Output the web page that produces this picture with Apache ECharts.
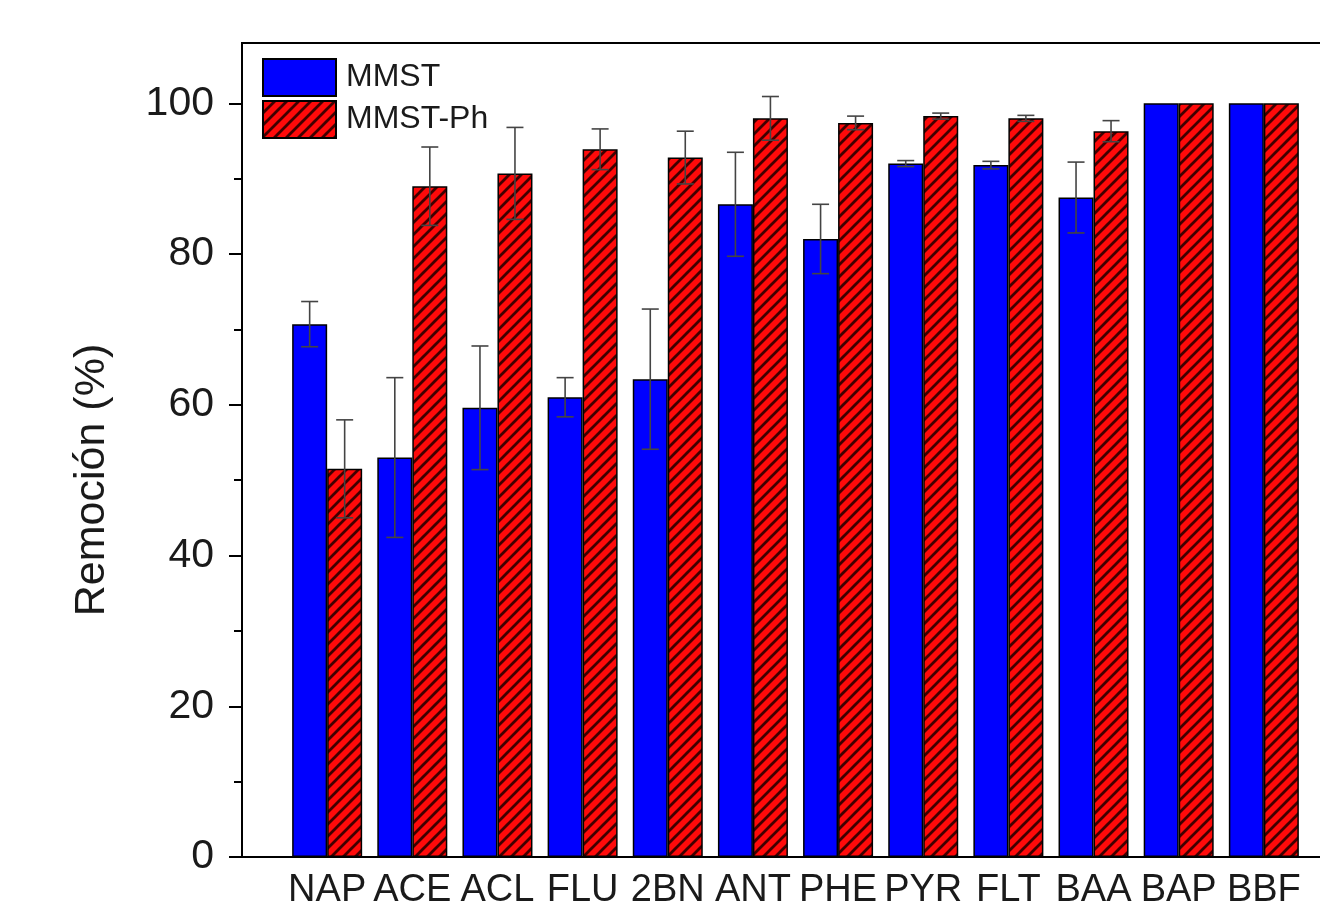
<!DOCTYPE html>
<html>
<head>
<meta charset="utf-8">
<script src="https://cdn.jsdelivr.net/npm/echarts@6/dist/echarts.min.js"></script>
<style>
html,body{margin:0;padding:0;background:#fff;overflow:hidden;width:1320px;height:910px;}
#chart{width:1360px;height:910px;}
</style>
</head>
<body>
<div id="chart"></div>
<script>
// ---- data ----
var categories = ['NAP','ACE','ACL','FLU','2BN','ANT','PHE','PYR','FLT','BAA','BAP','BBF'];
var mmst      = [70.7, 53.0, 59.6, 61.0, 63.4, 86.6, 82.0, 92.0, 91.8, 87.5, 100, 100];
var mmstErr   = [3.0, 10.6, 8.2, 2.6, 9.3, 6.9, 4.6, 0.4, 0.5, 4.7, 0, 0];
var mmstPh    = [51.5, 89.0, 90.7, 93.9, 92.8, 98.0, 97.4, 98.3, 98.0, 96.3, 100, 100];
var mmstPhErr = [6.5, 5.2, 6.1, 2.7, 3.5, 2.9, 0.9, 0.4, 0.4, 1.4, 0, 0];
var yMajorTicks = [0, 20, 40, 60, 80, 100];
var yMinorTicks = [10, 30, 50, 70, 90];

// ---- styles ----
var FONT = '"Liberation Sans", Arial, sans-serif';
var BAR_W = 35;

function makeHatch(){
  var c = document.createElement('canvas');
  var s = 12;
  c.width = s; c.height = s;
  var g = c.getContext('2d');
  g.fillStyle = '#ff0a0a';
  g.fillRect(0,0,s,s);
  g.strokeStyle = '#400000';
  g.lineWidth = 2.8;
  g.beginPath();
  g.moveTo(-2, s+2); g.lineTo(s+2, -2);
  g.moveTo(-2-s, s+2); g.lineTo(2, -2);
  g.moveTo(s-2, s+2); g.lineTo(2*s+2, -2);
  g.stroke();
  return c;
}
var hatch = makeHatch();

function xy(vals){ return vals.map(function(v,i){ return [i+1, v]; }); }
function errData(vals, errs, side){
  return vals.map(function(v,i){ return [i+1, v, errs[i], side]; });
}

function renderErr(params, api){
  var x = api.value(0), v = api.value(1), e = api.value(2), side = api.value(3);
  if (!e) return null;
  var top = api.coord([x, v + e]);
  var bot = api.coord([x, v - e]);
  var px = top[0] + side * BAR_W / 2;
  var cap = 8.5;
  var st = {stroke:'#444', lineWidth:1.6};
  return {
    type:'group',
    children:[
      {type:'line', shape:{x1:px, y1:top[1], x2:px, y2:bot[1]}, style:st},
      {type:'line', shape:{x1:px-cap, y1:top[1], x2:px+cap, y2:top[1]}, style:st},
      {type:'line', shape:{x1:px-cap, y1:bot[1], x2:px+cap, y2:bot[1]}, style:st}
    ]
  };
}

var chart = echarts.init(document.getElementById('chart'), null, {renderer:'canvas'});
chart.setOption({
  backgroundColor:'#fff',
  animation:false,
  textStyle:{fontFamily:FONT},
  grid:{left:242, right:11, top:43, bottom:53, show:true, borderColor:'#000', borderWidth:2, backgroundColor:'transparent'},
  legend:{
    orient:'vertical', left:257, top:53, icon:'rect',
    itemWidth:73, itemHeight:37, itemGap:3,
    textStyle:{fontFamily:FONT, fontSize:32, color:'#1a1a1a', padding:[0,0,0,5]},
    data:['MMST','MMST-Ph']
  },
  xAxis:{
    type:'value', min:0, max:13, interval:1,
    axisLine:{show:true, lineStyle:{color:'#000', width:2}},
    axisTick:{show:false},
    splitLine:{show:false},
    axisLabel:{
      fontFamily:FONT, fontSize:38, color:'#1a1a1a', margin:15,
      formatter:function(v){ return categories[v-1] || ''; }
    }
  },
  yAxis:[{
    type:'value', min:0, max:108,
    name:'Remoción (%)', nameLocation:'middle', nameGap:128,
    nameTextStyle:{fontFamily:FONT, fontSize:43, color:'#1a1a1a', padding:[0,60,0,0]},
    axisLine:{show:true, lineStyle:{color:'#000', width:2}},
    axisTick:{show:true, inside:false, length:13, customValues:yMajorTicks, lineStyle:{color:'#000', width:2}},
    axisLabel:{fontFamily:FONT, fontSize:41, color:'#1a1a1a', margin:28, customValues:yMajorTicks},
    splitLine:{show:false}
  },{
    type:'value', min:0, max:108, position:'left',
    axisLine:{show:false},
    axisTick:{show:true, inside:false, length:8, customValues:yMinorTicks, lineStyle:{color:'#000', width:2}},
    axisLabel:{show:false},
    splitLine:{show:false}
  }],
  series:[
    {
      name:'MMST', type:'bar', barWidth:BAR_W, barGap:'0%',
      data:xy(mmst),
      itemStyle:{color:'#0000ff', borderColor:'#000', borderWidth:1.5},
      z:2
    },
    {
      name:'MMST-Ph', type:'bar', barWidth:BAR_W, barGap:'0%',
      data:xy(mmstPh),
      itemStyle:{color:{image:hatch, repeat:'repeat'}, borderColor:'#000', borderWidth:1.5},
      z:2
    },
    {
      type:'custom', renderItem:renderErr, data:errData(mmst, mmstErr, -1),
      encode:{x:0, y:1}, z:5, silent:true
    },
    {
      type:'custom', renderItem:renderErr, data:errData(mmstPh, mmstPhErr, 1),
      encode:{x:0, y:1}, z:5, silent:true
    }
  ]
});
</script>
</body>
</html>
